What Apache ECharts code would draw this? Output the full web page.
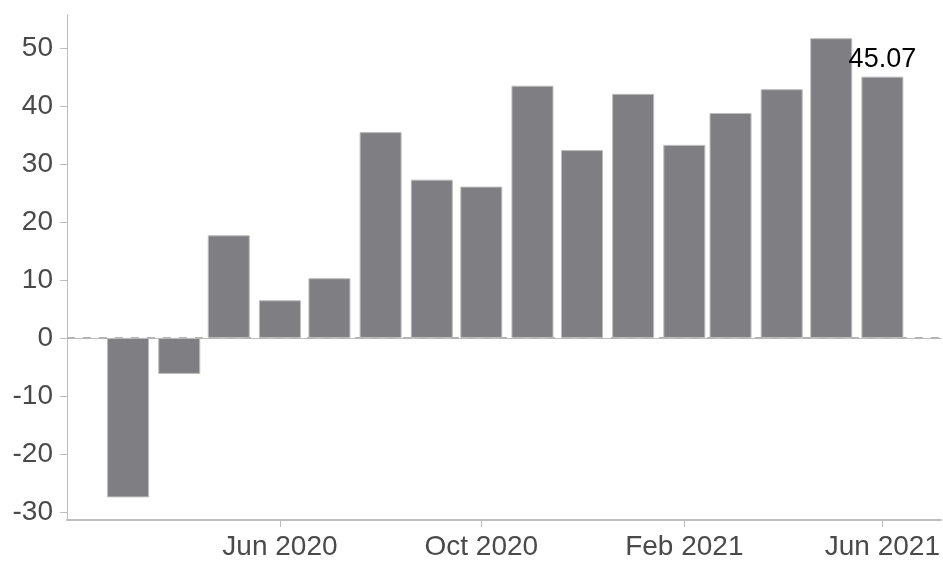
<!DOCTYPE html>
<html>
<head>
<meta charset="utf-8">
<script src="https://cdn.jsdelivr.net/npm/echarts@6/dist/echarts.min.js"></script>
<style>
  html, body { margin: 0; padding: 0; background: #fff; }
  #chart { width: 943px; height: 561px; }
</style>
</head>
<body>
<div id="chart"></div>
<script>
// ---- data ----
const months = ['2020-03-01','2020-04-01','2020-05-01','2020-06-01','2020-07-01','2020-08-01',
                '2020-09-01','2020-10-01','2020-11-01','2020-12-01','2021-01-01','2021-02-01',
                '2021-03-01','2021-04-01','2021-05-01','2021-06-01'];
const values = [-27.5, -6.2, 17.7, 6.5, 10.3, 35.5, 27.3, 26.1, 43.5, 32.4, 42.1, 33.3, 38.8, 42.9, 51.7, 45.07];
const xTickDates = ['2020-06-01','2020-10-01','2021-02-01','2021-06-01'];
const xTickLabels = ['Jun 2020','Oct 2020','Feb 2021','Jun 2021'];
const yTicks = [-30, -20, -10, 0, 10, 20, 30, 40, 50];
const labelledIndex = 15;

// x positions are days since 2020-01-01 (UTC)
const DAY = 86400000;
const base = Date.parse('2020-01-01T00:00:00Z');
const dayOf = d => Math.round((Date.parse(d + 'T00:00:00Z') - base) / DAY);
const xTickDays = xTickDates.map(dayOf);
const seriesData = months.map((m, i) => ({
  value: [dayOf(m), values[i]],
  label: { show: i === labelledIndex }
}));

const chart = echarts.init(document.getElementById('chart'), null, { renderer: 'canvas' });
const axisGray = '#bdbdbd';
const textGray = '#4a4a4a';
const font = '"Liberation Sans", Arial, sans-serif';

chart.setOption({
  animation: false,
  grid: { left: 67, top: 15, right: 0, bottom: 39, containLabel: false },
  xAxis: [{
    type: 'value',
    min: dayOf('2020-01-24'),
    max: dayOf('2021-07-06') + 0.5,
    axisLine: { show: true, onZero: false, lineStyle: { color: axisGray, width: 2 } },
    axisTick: { show: true, length: 7, customValues: xTickDays, lineStyle: { color: axisGray, width: 1 } },
    splitLine: { show: false },
    axisLabel: {
      customValues: xTickDays,
      margin: 13,
      fontSize: 28,
      fontFamily: font,
      color: textGray,
      formatter: function (v) {
        const idx = xTickDays.indexOf(Math.round(v));
        return idx >= 0 ? xTickLabels[idx] : '';
      }
    }
  }, {
    type: 'value',
    position: 'top',
    min: 0, max: 1,
    axisLine: { show: true, lineStyle: { color: axisGray, width: 1 } },
    axisTick: { show: false },
    axisLabel: { show: false },
    splitLine: { show: false }
  }],
  yAxis: {
    type: 'value',
    min: -31.4,
    max: 55.7,
    axisLine: { show: true, onZero: false, lineStyle: { color: axisGray, width: 1 } },
    axisTick: { show: true, length: 7, customValues: yTicks, lineStyle: { color: axisGray, width: 1 } },
    splitLine: { show: false },
    axisLabel: {
      customValues: yTicks,
      margin: 14,
      fontSize: 28,
      fontFamily: font,
      color: textGray
    }
  },
  series: [{
    type: 'bar',
    xAxisIndex: 0,
    barWidth: 42,
    data: seriesData,
    itemStyle: { color: '#7f7f83', borderColor: '#bcbcbc', borderWidth: 1 },
    label: {
      position: 'top',
      distance: 4,
      fontSize: 27,
      fontFamily: font,
      color: '#000',
      formatter: p => values[p.dataIndex].toFixed(2)
    },
    markLine: {
      silent: true,
      symbol: 'none',
      label: { show: false },
      z: 1,
      lineStyle: { color: '#b4b4b4', type: [8, 8], width: 2, opacity: 1 },
      data: [{ yAxis: 0 }]
    }
  }]
});
</script>
</body>
</html>
